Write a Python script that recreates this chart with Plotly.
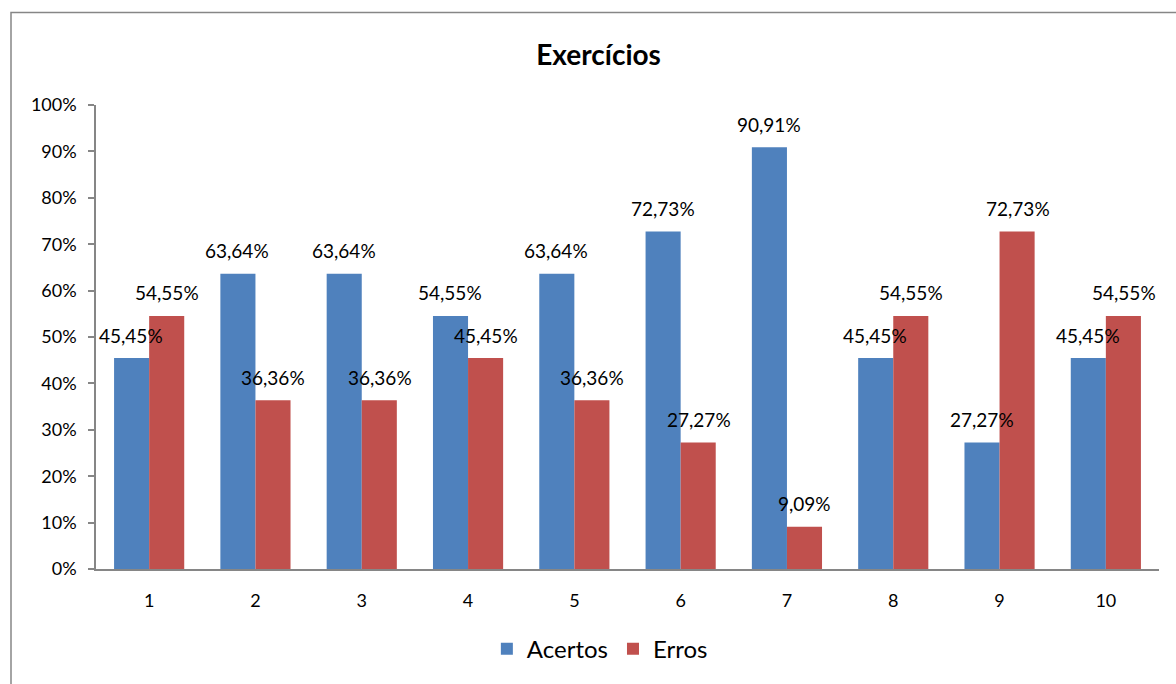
import plotly.graph_objects as go

# Exercise results per question (percent)
exercicios = [1, 2, 3, 4, 5, 6, 7, 8, 9, 10]
acertos = [45.45, 63.64, 63.64, 54.55, 63.64, 72.73, 90.91, 45.45, 27.27, 45.45]
erros = [54.55, 36.36, 36.36, 45.45, 36.36, 27.27, 9.09, 54.55, 72.73, 54.55]
y_ticks = [0, 10, 20, 30, 40, 50, 60, 70, 80, 90, 100]

BLUE = "#4F81BD"
RED = "#C0504D"
AXIS = "#868686"
FONT = "Lato"


def pct_label(v):
    return f"{v:.2f}".replace(".", ",") + "%"


fig = go.Figure()
fig.add_trace(go.Bar(x=exercicios, y=acertos, name="Acertos",
                     marker=dict(color=BLUE, line=dict(width=0))))
fig.add_trace(go.Bar(x=exercicios, y=erros, name="Erros",
                     marker=dict(color=RED, line=dict(width=0))))

# Value labels above each bar, comma as decimal separator
annotations = []
for xi, a, e in zip(exercicios, acertos, erros):
    for val, shift in ((a, -18), (e, 18)):
        annotations.append(dict(
            x=xi, y=val, xref="x", yref="y", text=pct_label(val),
            showarrow=False, xshift=shift, yshift=23, yanchor="middle",
            font=dict(family=FONT, size=19, color="#000000"),
        ))

fig.update_layout(
    width=1176, height=684,
    margin=dict(l=96, r=17, t=105, b=112),
    paper_bgcolor="white", plot_bgcolor="white",
    barmode="group", bargap=0.34, bargroupgap=0,
    title=dict(text="<b>Exercícios</b>", x=0.509, xref="container",
               xanchor="center", y=1 - 55 / 684, yref="container",
               yanchor="middle",
               font=dict(family=FONT, size=28, color="#000000")),
    xaxis=dict(range=[0.5, 10.5], tickmode="array", tickvals=exercicios,
               ticktext=[str(v) for v in exercicios],
               showline=True, linecolor=AXIS, linewidth=2,
               ticks="", showgrid=False, zeroline=False,
               tickfont=dict(family=FONT, size=18, color="#000000"),
               ticklabelstandoff=14),
    yaxis=dict(range=[0, 100], tickmode="array", tickvals=y_ticks,
               ticktext=[f"{v}%" for v in y_ticks],
               showline=True, linecolor=AXIS, linewidth=1.5,
               ticks="outside", ticklen=6, tickcolor=AXIS, tickwidth=1.5,
               showgrid=False, zeroline=False,
               tickfont=dict(family=FONT, size=18, color="#000000"),
               ticklabelstandoff=8),
    legend=dict(orientation="h", x=0.474, xanchor="center",
                y=-0.173, yanchor="middle",
                font=dict(family=FONT, size=24, color="#000000"),
                itemsizing="constant"),
    annotations=annotations,
    shapes=[dict(type="rect", xref="paper", yref="paper",
                 x0=(11 - 96) / 1063, x1=1.2,
                 y0=-0.4, y1=(572 - 12) / 467,
                 line=dict(color=AXIS, width=1.5), fillcolor="rgba(0,0,0,0)",
                 layer="below")],
)

fig.write_html("out.html")
